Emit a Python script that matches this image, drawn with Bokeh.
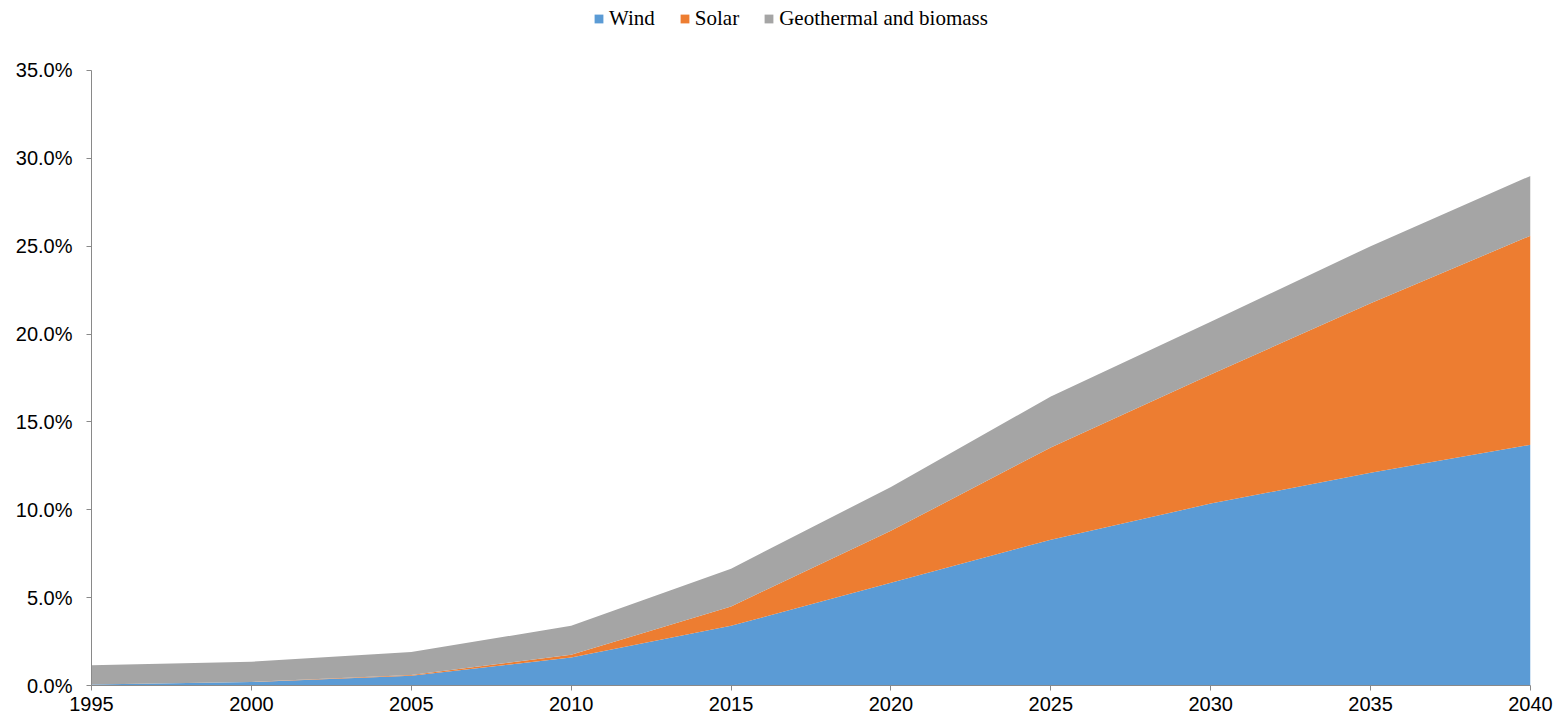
from bokeh.plotting import figure
from bokeh.models import Legend, LegendItem, Range1d, FixedTicker, PrintfTickFormatter, ColumnDataSource
from bokeh.embed import file_html
from bokeh.resources import INLINE

years = [1995, 2000, 2005, 2010, 2015, 2020, 2025, 2030, 2035, 2040]
wind = [0.05, 0.2, 0.55, 1.6, 3.4, 5.85, 8.3, 10.35, 12.1, 13.7]
solar = [0.0, 0.0, 0.05, 0.15, 1.1, 2.95, 5.25, 7.35, 9.65, 11.9]
geo_biomass = [1.1, 1.15, 1.3, 1.65, 2.15, 2.5, 2.9, 3.0, 3.25, 3.4]
series_names = ["Wind", "Solar", "Geothermal and biomass"]
colors = ["#5B9BD5", "#ED7D31", "#A5A5A5"]
y_ticks = [0, 5, 10, 15, 20, 25, 30, 35]

src = ColumnDataSource(dict(year=years, wind=wind, solar=solar, geo=geo_biomass))

# frame extends to the top of the canvas so the legend can sit above the 35% tick
p = figure(width=1557, height=719, output_backend="svg", toolbar_location=None,
           x_range=Range1d(1995, 2040), y_range=Range1d(0, 38.98),
           min_border_left=91, min_border_right=27, min_border_top=0, min_border_bottom=34)
p.outline_line_color = None
p.xgrid.visible = False
p.ygrid.visible = False

rs = p.varea_stack(["wind", "solar", "geo"], x="year", color=colors, source=src)

for ax in (p.xaxis[0], p.yaxis[0]):
    ax.axis_line_color = "#898989"
    ax.major_tick_line_color = "#898989"
    ax.minor_tick_line_color = None
    ax.major_tick_in = 0
    ax.major_tick_out = 5
    ax.major_label_text_font = "Liberation Sans"
    ax.major_label_text_font_size = "20px"
    ax.major_label_text_color = "#000000"

p.xaxis.major_label_standoff = 6
p.yaxis.major_label_standoff = 14
p.yaxis.bounds = (0, 35)
p.xaxis.ticker = FixedTicker(ticks=years)
p.yaxis.ticker = FixedTicker(ticks=y_ticks)
p.yaxis.formatter = PrintfTickFormatter(format="%.1f%%")

legend = Legend(items=[LegendItem(label=n, renderers=[r]) for n, r in zip(series_names, rs)],
                orientation="horizontal", location=(502, 654),
                label_text_font="Liberation Serif", label_text_font_size="21px",
                label_text_color="#000000",
                glyph_width=11, glyph_height=11, label_standoff=5, spacing=24,
                padding=0, margin=0, border_line_color=None, background_fill_alpha=0)
p.add_layout(legend, "center")

open("out.html", "w").write(file_html(p, INLINE))
